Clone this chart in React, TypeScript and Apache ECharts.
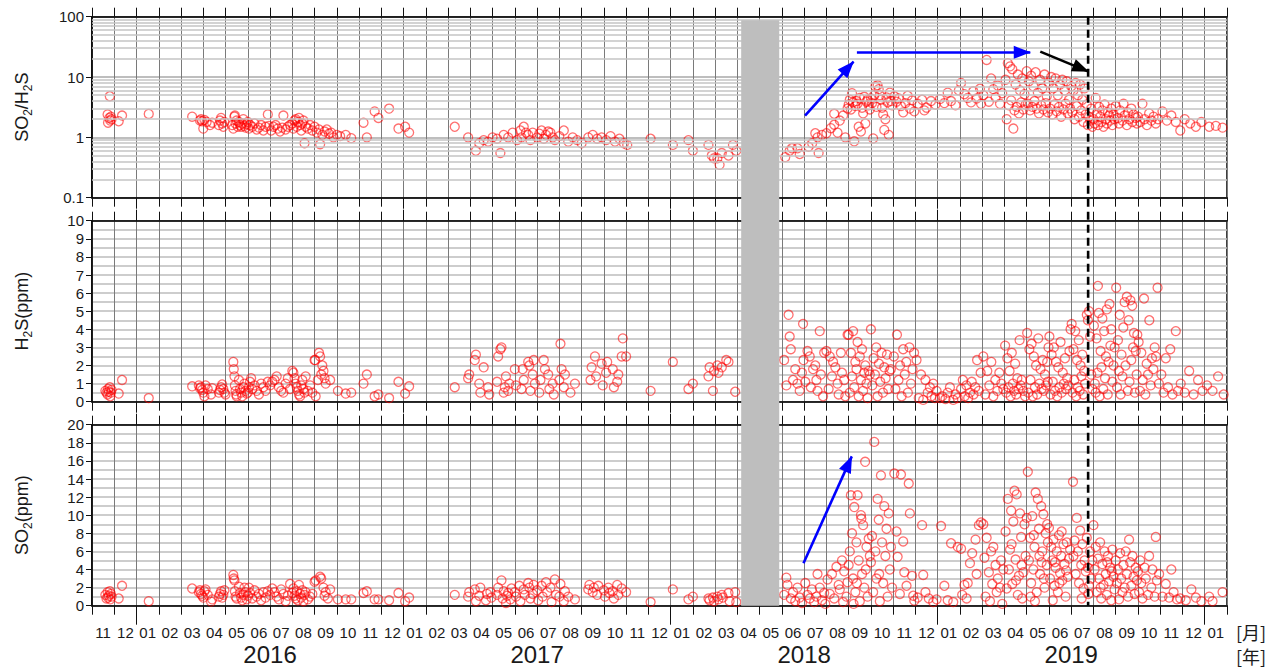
import React, { useEffect, useRef } from "react";
import * as echarts from "echarts";

// x value t = months elapsed since 2015-11-01 (t=2 -> 2016-01-01, t=50 -> 2020-01-01)
const monthLabels = [
  "11", "12",
  "01", "02", "03", "04", "05", "06", "07", "08", "09", "10", "11", "12",
  "01", "02", "03", "04", "05", "06", "07", "08", "09", "10", "11", "12",
  "01", "02", "03", "04", "05", "06", "07", "08", "09", "10", "11", "12",
  "01", "02", "03", "04", "05", "06", "07", "08", "09", "10", "11", "12",
  "01",
];
const yearLabels = ["2016", "2017", "2018", "2019"];
const yearCenters = [8, 20, 32, 44];
const yearStarts = [2, 14, 26, 38, 50];
const ratioTicks = [0.1, 1, 10, 100];
const gapBand = [29.17, 30.88]; // no-measurement period (grey)
const markerT = 44.76; // dashed line

// SO2/H2S ratio
const ratio2016 = [[0.7,2.4],[0.72,1.75],[0.78,2.1],[0.8,4.8],[0.82,1.9],[0.85,2.2],[0.88,2.0],[1.2,1.85],[1.35,2.3],[2.55,2.45],[4.5,2.2],[4.85,1.9],[4.9,2.0],[4.95,1.85],[5.0,1.4],[5.05,1.95],[5.15,1.8],[5.3,1.6],[5.4,1.75],[5.7,1.6],[5.75,1.9],[5.8,2.1],[5.85,1.7],[5.9,1.5],[5.95,1.8],[6.3,1.6],[6.35,1.4],[6.4,2.2],[6.42,2.3],[6.45,1.7],[6.5,1.9],[6.55,1.5],[6.6,1.8],[6.65,1.6],[6.7,1.5],[6.75,1.7],[6.8,2.0],[6.85,1.55],[6.9,1.45],[6.95,1.65],[7.0,1.8],[7.05,1.4],[7.1,1.6],[7.2,1.5],[7.3,1.7],[7.4,1.35],[7.5,1.45],[7.6,1.6],[7.7,1.3],[7.8,1.5],[7.9,2.4],[7.95,1.55],[8.05,1.3],[8.15,1.5],[8.25,1.6],[8.35,1.4],[8.45,1.25],[8.55,1.45],[8.6,2.3],[8.7,1.35],[8.8,1.5],[8.9,1.6],[9.0,1.7],[9.05,1.4],[9.1,1.9],[9.15,2.0],[9.2,1.5],[9.25,1.8],[9.3,2.1],[9.35,1.6],[9.4,1.3],[9.45,1.7],[9.5,1.9],[9.55,0.8],[9.6,1.5],[9.7,1.4],[9.8,1.6],[9.9,1.3],[10.0,1.5],[10.1,1.2],[10.2,1.35],[10.25,0.77],[10.35,1.1],[10.45,1.25],[10.55,1.35],[10.65,1.15],[10.75,1.2],[10.85,1.0],[11.0,1.1],[11.15,1.05],[11.4,1.1],[11.65,0.97],[12.2,1.75],[12.35,1.0],[12.7,2.7],[12.87,2.1],[13.35,3.0],[13.77,1.4],[14.07,1.5],[14.25,1.2]];
const ratio2017 = [[16.3,1.5],[16.9,1.0],[17.25,0.6],[17.4,0.8],[17.6,0.9],[17.8,0.85],[18.0,1.0],[18.2,0.95],[18.35,0.55],[18.5,1.1],[18.7,1.0],[18.9,1.2],[19.1,0.9],[19.25,1.3],[19.3,1.0],[19.4,1.5],[19.5,1.2],[19.6,1.1],[19.7,0.9],[19.8,1.2],[20.0,1.0],[20.1,1.15],[20.2,1.3],[20.3,0.95],[20.4,1.1],[20.5,1.25],[20.6,1.2],[20.7,1.0],[20.8,0.9],[21.0,1.05],[21.2,1.3],[21.4,0.85],[21.6,1.0],[21.8,0.9],[22.0,0.8],[22.3,1.0],[22.5,1.1],[22.7,0.95],[22.9,1.0],[23.1,0.9],[23.3,1.05],[23.5,0.85],[23.7,0.95],[23.9,0.8],[24.05,0.75],[25.1,0.95],[26.1,0.75],[26.8,0.9],[27.0,0.6],[27.7,0.75],[27.85,0.5],[27.95,0.45],[28.1,0.45],[28.2,0.35],[28.3,0.55],[28.6,0.5],[28.8,0.75],[28.95,0.6]];
const ratio2018 = [[31.15,0.47],[31.35,0.6],[31.45,0.66],[31.7,0.66],[31.8,0.53],[32.2,0.7],[32.36,0.8],[32.5,1.17],[32.65,0.55],[32.6,1.0],[32.8,1.1],[33.0,1.17],[33.2,1.42],[33.35,1.62],[33.35,2.46],[33.5,1.2],[33.6,1.9],[33.75,2.3],[33.85,1.0],[33.95,3.0],[34.0,3.5],[34.05,4.2],[34.1,2.9],[34.15,5.4],[34.2,3.8],[34.25,0.86],[34.3,3.3],[34.35,4.0],[34.4,3.6],[34.45,1.5],[34.5,4.5],[34.55,1.25],[34.6,3.1],[34.65,2.5],[34.7,4.7],[34.75,1.7],[34.8,3.9],[34.85,4.2],[34.9,3.4],[34.95,2.9],[35.0,4.4],[35.05,3.7],[35.1,0.96],[35.15,5.0],[35.2,7.0],[35.25,3.2],[35.3,7.3],[35.35,6.3],[35.4,5.0],[35.45,4.2],[35.5,3.1],[35.55,2.4],[35.6,1.33],[35.65,2.0],[35.7,4.6],[35.75,3.8],[35.8,1.1],[35.85,5.5],[35.9,4.0],[35.95,3.4],[36.05,4.8],[36.15,3.9],[36.25,4.4],[36.35,3.3],[36.45,2.6],[36.55,3.7],[36.65,4.9],[36.75,3.0],[36.85,4.1],[36.95,2.7],[37.1,3.6],[37.3,4.2],[37.4,2.8],[37.5,3.1],[37.7,4.0],[37.9,3.5],[38.1,4.3],[38.3,3.7],[38.45,5.5],[38.6,4.0],[38.8,3.4],[38.95,6.0],[39.05,8.0],[39.2,5.2],[39.35,4.5],[39.5,3.8],[39.6,5.8],[39.75,4.4],[39.9,6.4],[39.95,3.6],[40.05,5.0],[40.2,19.2],[40.3,3.9],[40.4,9.5],[40.5,6.3],[40.6,4.6],[40.7,7.2],[40.8,3.6],[40.9,5.4],[41.05,9.0],[41.1,2.0],[41.15,17.0],[41.2,3.4],[41.25,15.0],[41.3,4.1],[41.35,13.5],[41.4,1.4],[41.45,2.8],[41.5,7.5],[41.55,3.2],[41.6,11.0],[41.65,2.5],[41.7,6.0],[41.75,3.8],[41.8,9.5],[41.85,2.9],[41.9,5.2],[41.95,3.5],[42.0,12.5],[42.05,3.6],[42.1,8.5],[42.15,2.8],[42.2,10.5],[42.25,3.2],[42.3,7.0],[42.35,4.0],[42.4,12.0],[42.45,3.0],[42.5,5.5],[42.55,2.5],[42.6,9.0],[42.65,3.4],[42.7,6.5],[42.75,2.9],[42.8,11.0],[42.85,3.7],[42.9,4.8],[42.95,2.6],[43.0,8.0],[43.05,3.0],[43.1,10.0],[43.15,2.4],[43.2,6.5],[43.25,3.5],[43.3,9.5],[43.35,2.7],[43.4,5.0],[43.45,3.2],[43.5,7.5],[43.55,2.2],[43.6,9.0],[43.65,2.9],[43.7,6.0],[43.75,3.6],[43.8,8.5],[43.85,2.5],[43.9,4.2],[43.95,3.0],[44.0,7.0],[44.05,2.6],[44.1,6.0],[44.15,2.0],[44.2,8.0],[44.25,3.3],[44.3,5.0],[44.35,2.2],[44.4,7.5],[44.45,2.8],[44.5,4.2],[44.55,1.8],[44.6,6.5],[44.65,2.4],[44.7,3.5],[44.75,1.6],[44.8,2.2],[44.85,1.9],[44.9,3.0],[44.95,1.5],[45.0,2.0],[45.05,1.7],[45.1,4.5],[45.15,2.5],[45.2,1.6],[45.25,3.2],[45.3,2.2],[45.35,1.8],[45.4,2.8],[45.45,1.5],[45.5,3.5],[45.55,2.0],[45.6,1.7],[45.65,2.6],[45.7,2.3],[45.75,1.9],[45.8,3.0],[45.85,1.6],[45.9,2.4],[45.95,2.0],[46.0,3.3],[46.1,2.1],[46.15,1.7],[46.2,2.8],[46.3,1.9],[46.35,3.6],[46.4,2.3],[46.5,1.6],[46.55,2.6],[46.6,2.0],[46.7,3.0],[46.75,1.8],[46.8,2.4],[46.9,2.1],[46.95,1.7],[47.0,2.2],[47.1,1.8],[47.2,3.6],[47.3,2.0],[47.4,1.6],[47.5,2.5],[47.6,1.9],[47.7,2.2],[47.8,1.7],[47.9,2.0],[48.1,2.7],[48.3,1.9],[48.5,2.3],[48.7,1.8],[48.9,1.3],[49.1,2.0],[49.35,1.7],[49.6,1.5],[49.85,1.8],[50.2,1.5],[50.5,1.55],[50.8,1.45]];

// H2S (ppm)
const h2s2016 = [[0.6,0.6],[0.65,0.5],[0.7,0.4],[0.72,0.7],[0.75,0.55],[0.8,0.8],[0.82,0.3],[0.85,0.5],[0.88,0.65],[1.2,0.45],[1.35,1.2],[2.55,0.2],[4.5,0.85],[4.8,0.9],[4.85,0.75],[4.9,0.8],[4.95,0.65],[5.0,0.5],[5.05,0.3],[5.1,0.9],[5.2,0.7],[5.35,0.4],[5.4,0.75],[5.7,0.5],[5.75,0.65],[5.8,0.8],[5.85,0.95],[5.9,0.7],[5.95,0.5],[6.0,0.4],[6.35,2.2],[6.37,1.8],[6.4,1.4],[6.42,0.9],[6.45,0.6],[6.48,0.4],[6.5,0.3],[6.6,1.2],[6.65,0.7],[6.7,0.5],[6.75,0.3],[6.8,0.8],[6.85,1.0],[6.9,0.6],[6.95,0.45],[7.0,0.5],[7.05,0.8],[7.1,1.1],[7.15,1.3],[7.2,0.7],[7.3,0.9],[7.4,0.6],[7.5,0.4],[7.6,1.0],[7.7,0.8],[7.8,0.6],[7.9,1.1],[8.0,0.9],[8.1,1.1],[8.2,1.2],[8.3,1.4],[8.4,0.8],[8.5,0.6],[8.6,0.5],[8.7,1.0],[8.8,1.3],[8.9,0.7],[9.0,1.7],[9.05,1.6],[9.1,1.3],[9.15,1.0],[9.2,0.8],[9.25,0.6],[9.3,0.4],[9.35,0.3],[9.4,0.9],[9.45,1.2],[9.5,0.7],[9.55,0.5],[9.6,1.4],[9.7,0.6],[9.8,0.9],[9.9,0.5],[10.0,2.3],[10.03,2.3],[10.05,0.3],[10.15,1.2],[10.2,2.7],[10.25,2.5],[10.3,1.5],[10.35,2.0],[10.4,1.7],[10.45,1.3],[10.5,1.0],[10.7,1.2],[11.05,0.6],[11.4,0.45],[11.65,0.5],[12.2,1.0],[12.35,1.5],[12.7,0.3],[12.87,0.4],[13.35,0.2],[13.77,1.1],[14.07,0.45],[14.25,0.85]];
const h2s2017 = [[16.3,0.8],[16.9,1.3],[16.95,1.5],[17.2,2.3],[17.25,2.6],[17.4,1.0],[17.45,0.5],[17.6,1.9],[17.8,0.8],[17.85,0.4],[18.2,1.1],[18.25,2.5],[18.35,2.9],[18.4,3.0],[18.5,0.5],[18.55,0.8],[18.6,1.4],[18.7,0.6],[18.75,1.0],[19.0,1.8],[19.05,0.9],[19.3,0.7],[19.35,1.8],[19.4,1.2],[19.6,2.2],[19.65,2.0],[19.7,0.6],[19.8,1.5],[19.85,2.3],[19.9,1.0],[20.1,0.5],[20.15,1.2],[20.3,2.3],[20.35,1.8],[20.5,1.5],[20.55,0.7],[20.7,1.0],[20.75,0.4],[21.0,1.2],[21.05,3.2],[21.1,1.8],[21.2,0.8],[21.25,1.5],[21.5,0.5],[21.7,1.0],[22.4,1.2],[22.45,1.9],[22.6,2.5],[22.65,1.4],[22.9,2.1],[22.95,0.9],[23.1,1.6],[23.15,2.2],[23.4,1.8],[23.45,0.8],[23.6,1.1],[23.65,1.5],[23.8,2.5],[23.85,3.5],[24.0,2.5],[25.1,0.6],[26.1,2.2],[26.8,0.7],[27.0,1.0],[27.7,1.4],[27.75,1.9],[27.9,0.6],[27.95,1.7],[28.1,2.0],[28.15,1.6],[28.3,1.9],[28.5,2.3],[28.6,2.2],[28.9,0.55]];
const h2s2018 = [[31.1,2.3],[31.2,0.9],[31.3,4.8],[31.35,3.6],[31.4,2.9],[31.5,1.2],[31.6,1.8],[31.7,1.0],[31.8,0.6],[31.9,1.6],[31.95,4.3],[31.97,2.3],[32.05,1.1],[32.15,2.8],[32.25,2.5],[32.3,0.8],[32.4,1.8],[32.5,2.0],[32.55,1.2],[32.6,0.6],[32.7,3.9],[32.75,1.5],[32.85,0.3],[32.9,2.7],[33.0,2.8],[33.1,0.7],[33.15,2.5],[33.25,1.4],[33.3,2.2],[33.4,1.9],[33.5,1.0],[33.55,0.4],[33.65,2.7],[33.7,1.6],[33.8,1.2],[33.85,0.3],[33.95,3.7],[34.0,3.7],[34.05,0.5],[34.1,2.7],[34.15,1.4],[34.2,3.9],[34.25,0.8],[34.3,2.2],[34.35,1.8],[34.4,3.3],[34.45,0.3],[34.5,2.5],[34.55,1.2],[34.6,2.9],[34.65,0.6],[34.7,1.6],[34.75,2.0],[34.8,1.0],[34.85,0.2],[34.9,1.7],[34.95,1.5],[35.0,4.0],[35.06,0.9],[35.12,2.4],[35.18,1.5],[35.24,3.0],[35.3,0.3],[35.36,2.1],[35.42,1.1],[35.48,2.7],[35.54,0.5],[35.6,1.9],[35.66,1.3],[35.72,2.6],[35.78,0.7],[35.84,1.7],[35.9,1.8],[36.03,2.5],[36.1,0.7],[36.17,3.7],[36.24,1.2],[36.31,2.0],[36.38,0.3],[36.45,2.9],[36.52,1.5],[36.59,2.2],[36.66,0.5],[36.73,3.0],[36.8,1.0],[36.87,1.8],[36.94,2.7],[37.05,2.3],[37.15,0.2],[37.25,1.5],[37.35,0.1],[37.45,1.2],[37.55,0.5],[37.65,0.8],[37.72,0.3],[37.8,1.0],[37.88,0.2],[37.95,0.6],[38.1,0.2],[38.2,0.3],[38.35,0.15],[38.45,0.5],[38.55,0.8],[38.7,0.1],[38.8,0.4],[38.9,0.2],[39.05,0.7],[39.13,1.2],[39.21,0.3],[39.29,0.9],[39.37,0.2],[39.45,0.5],[39.53,1.1],[39.61,0.4],[39.69,0.8],[39.77,2.3],[39.85,0.6],[39.93,1.6],[40.05,2.5],[40.14,0.4],[40.23,1.7],[40.32,0.9],[40.41,2.2],[40.5,0.3],[40.59,1.2],[40.68,0.6],[40.77,1.6],[40.86,1.0],[40.95,0.7],[41.03,3.1],[41.08,0.5],[41.13,2.4],[41.18,0.8],[41.23,1.7],[41.28,0.3],[41.33,2.7],[41.38,1.0],[41.43,0.6],[41.48,2.1],[41.53,0.4],[41.58,1.3],[41.63,0.7],[41.68,3.4],[41.73,0.9],[41.78,1.2],[41.85,0.6],[41.93,0.3],[42.02,3.8],[42.07,0.5],[42.12,2.9],[42.17,1.2],[42.22,3.2],[42.27,0.3],[42.32,2.5],[42.37,0.8],[42.42,2.0],[42.47,0.4],[42.52,3.5],[42.57,1.0],[42.62,1.8],[42.67,0.7],[42.72,2.3],[42.77,0.6],[42.82,1.5],[42.87,0.9],[42.92,2.2],[42.95,1.1],[42.98,3.0],[43.02,3.6],[43.07,0.4],[43.12,2.6],[43.17,1.1],[43.22,3.0],[43.27,0.6],[43.32,2.2],[43.37,0.3],[43.42,1.9],[43.47,0.8],[43.52,3.3],[43.57,0.5],[43.62,1.6],[43.67,1.0],[43.72,2.4],[43.77,0.7],[43.82,1.3],[43.87,0.9],[43.92,2.8],[43.97,4.0],[44.02,4.3],[44.06,0.5],[44.1,2.9],[44.14,1.2],[44.18,3.9],[44.22,0.3],[44.26,2.3],[44.3,0.8],[44.34,3.4],[44.38,0.6],[44.42,2.0],[44.46,1.4],[44.5,2.6],[44.54,0.4],[44.58,1.7],[44.62,1.0],[44.7,4.8],[44.75,4.5],[44.8,5.0],[44.85,3.6],[44.9,1.5],[44.95,0.7],[45.02,4.2],[45.06,1.0],[45.1,0.5],[45.14,3.5],[45.18,1.6],[45.2,6.4],[45.24,4.9],[45.28,0.3],[45.32,2.8],[45.36,1.9],[45.4,4.6],[45.44,0.7],[45.48,3.9],[45.52,1.3],[45.56,2.5],[45.6,5.1],[45.64,0.4],[45.68,2.2],[45.72,5.4],[45.76,3.1],[45.8,4.0],[45.85,1.1],[45.9,2.0],[45.95,3.0],[46.02,6.3],[46.06,0.8],[46.1,3.4],[46.14,1.7],[46.18,4.8],[46.22,0.4],[46.26,2.6],[46.3,1.4],[46.34,4.1],[46.4,5.5],[46.44,2.0],[46.5,5.8],[46.54,0.6],[46.58,4.5],[46.62,1.1],[46.66,5.6],[46.7,2.3],[46.74,5.3],[46.78,3.0],[46.82,3.8],[46.86,0.5],[46.9,2.8],[46.94,1.5],[46.97,3.7],[47.03,3.3],[47.09,0.6],[47.15,2.7],[47.21,1.2],[47.27,5.7],[47.33,0.4],[47.39,2.1],[47.45,1.5],[47.51,4.5],[47.57,0.9],[47.63,2.4],[47.69,1.8],[47.75,3.0],[47.81,2.5],[47.88,6.3],[47.94,1.0],[48.05,1.5],[48.15,0.5],[48.25,2.4],[48.35,0.8],[48.45,2.9],[48.55,0.4],[48.7,3.9],[48.8,0.6],[48.92,1.0],[49.1,0.5],[49.3,1.7],[49.5,0.4],[49.7,1.2],[49.9,0.6],[50.1,0.9],[50.35,0.6],[50.6,1.4],[50.85,0.4]];

// SO2 (ppm)
const so22016 = [[0.6,1.2],[0.65,0.8],[0.7,1.5],[0.72,0.9],[0.75,1.1],[0.8,1.6],[0.82,0.7],[0.85,1.3],[0.88,1.0],[1.2,0.8],[1.35,2.2],[2.55,0.5],[4.5,1.9],[4.8,1.5],[4.85,1.7],[4.9,1.3],[4.95,1.1],[5.0,0.9],[5.05,1.6],[5.1,1.8],[5.2,1.2],[5.35,0.45],[5.4,0.7],[5.7,1.0],[5.75,1.3],[5.8,1.6],[5.85,0.9],[5.9,1.2],[5.95,1.7],[6.35,3.4],[6.37,3.0],[6.4,2.8],[6.42,1.6],[6.45,1.0],[6.5,0.8],[6.6,2.1],[6.65,1.4],[6.7,0.9],[6.75,0.6],[6.8,1.2],[6.85,2.0],[6.9,1.5],[6.95,0.7],[7.0,1.1],[7.05,2.0],[7.1,1.4],[7.2,0.8],[7.3,1.7],[7.4,1.0],[7.5,1.3],[7.6,0.6],[7.7,1.5],[7.8,0.9],[7.9,1.6],[8.0,1.2],[8.1,1.9],[8.2,1.5],[8.3,1.0],[8.4,0.7],[8.5,1.8],[8.6,1.3],[8.7,0.5],[8.8,1.1],[8.9,2.4],[9.0,1.4],[9.05,1.9],[9.1,1.1],[9.15,0.8],[9.2,1.6],[9.25,0.6],[9.3,2.3],[9.35,1.3],[9.4,0.9],[9.45,1.7],[9.5,0.5],[9.55,1.2],[9.6,1.5],[9.7,0.7],[9.8,1.0],[9.9,1.3],[10.0,2.65],[10.05,2.8],[10.25,3.2],[10.3,3.0],[10.4,2.0],[10.45,1.1],[10.5,1.5],[10.6,0.8],[10.7,1.8],[11.05,0.7],[11.4,0.7],[11.65,0.7],[12.2,1.4],[12.35,1.6],[12.7,0.7],[12.87,0.7],[13.35,0.6],[13.77,1.4],[14.07,0.5],[14.25,0.9]];
const so22017 = [[16.3,1.2],[16.9,1.0],[16.95,1.5],[17.2,1.8],[17.25,0.5],[17.4,1.1],[17.45,2.0],[17.7,0.6],[17.75,1.3],[17.9,1.5],[17.95,0.9],[18.2,1.2],[18.25,2.0],[18.4,2.8],[18.45,0.8],[18.5,1.6],[18.6,0.3],[18.65,1.1],[18.7,1.4],[18.8,0.7],[18.85,1.9],[19.0,1.5],[19.05,1.0],[19.2,2.2],[19.25,0.5],[19.4,1.8],[19.45,1.2],[19.6,2.5],[19.65,2.0],[19.7,0.8],[19.8,1.3],[19.85,2.3],[20.0,1.7],[20.05,0.6],[20.2,2.2],[20.25,1.0],[20.4,2.6],[20.45,1.5],[20.6,2.0],[20.65,0.4],[20.8,2.9],[20.85,1.2],[21.0,1.0],[21.05,2.4],[21.2,0.5],[21.25,1.6],[21.4,1.0],[21.7,0.7],[22.3,1.8],[22.35,2.3],[22.5,1.5],[22.55,2.0],[22.7,1.2],[22.75,2.2],[23.0,1.7],[23.05,1.0],[23.2,2.0],[23.25,1.4],[23.4,1.6],[23.45,0.8],[23.6,2.3],[23.65,1.2],[23.8,1.9],[24.0,1.5],[25.1,0.4],[26.1,1.8],[26.8,0.7],[27.0,1.0],[27.7,0.8],[27.75,0.6],[27.9,0.9],[27.95,0.5],[28.1,1.0],[28.15,0.7],[28.3,1.2],[28.35,0.9],[28.6,1.4],[28.65,0.5],[28.9,1.5],[28.95,0.4]];
const so22018 = [[31.1,1.2],[31.2,3.1],[31.25,2.3],[31.4,0.8],[31.5,1.5],[31.6,0.5],[31.7,2.0],[31.8,0.9],[31.9,0.3],[32.05,2.5],[32.15,1.2],[32.25,0.8],[32.35,1.8],[32.45,0.4],[32.55,1.0],[32.6,3.5],[32.7,2.0],[32.8,0.6],[32.9,1.4],[32.95,0.2],[33.05,2.9],[33.15,1.3],[33.25,3.5],[33.35,0.8],[33.45,4.3],[33.55,2.3],[33.6,1.8],[33.7,5.0],[33.75,0.4],[33.8,3.8],[33.9,1.0],[33.95,2.6],[34.0,4.5],[34.05,6.0],[34.1,12.2],[34.15,8.0],[34.2,3.0],[34.22,0.2],[34.25,10.9],[34.3,1.5],[34.35,7.0],[34.37,2.5],[34.4,12.2],[34.45,5.0],[34.5,0.5],[34.55,10.0],[34.57,9.6],[34.6,3.5],[34.65,8.9],[34.7,2.0],[34.74,15.9],[34.77,4.0],[34.8,6.5],[34.85,1.0],[34.9,7.4],[34.95,5.5],[35.0,4.8],[35.05,7.7],[35.1,1.5],[35.15,18.1],[35.2,6.0],[35.25,3.0],[35.3,11.8],[35.35,9.5],[35.37,3.5],[35.4,0.5],[35.45,14.4],[35.5,7.0],[35.55,2.5],[35.6,11.0],[35.65,5.5],[35.7,8.5],[35.75,1.0],[35.8,10.2],[35.85,4.0],[35.9,6.5],[35.95,2.0],[36.05,14.6],[36.15,8.2],[36.2,5.4],[36.3,1.3],[36.35,14.5],[36.45,7.1],[36.5,3.7],[36.6,2.2],[36.7,13.5],[36.75,10.2],[36.85,3.3],[36.9,1.1],[36.95,0.55],[37.1,0.9],[37.3,8.9],[37.35,3.4],[37.45,1.5],[37.6,0.8],[37.8,0.4],[37.95,0.7],[38.15,8.8],[38.3,2.2],[38.45,0.6],[38.6,6.9],[38.7,0.4],[38.9,6.5],[39.05,6.3],[39.1,1.2],[39.2,2.3],[39.3,0.8],[39.35,2.5],[39.45,4.7],[39.55,5.8],[39.7,7.3],[39.75,3.5],[39.85,8.9],[39.95,9.2],[40.05,9.0],[40.1,5.3],[40.15,1.0],[40.2,7.5],[40.3,3.7],[40.35,0.5],[40.4,6.0],[40.45,2.4],[40.5,6.5],[40.6,4.5],[40.65,1.5],[40.7,3.0],[40.8,2.0],[40.85,5.0],[40.9,0.2],[40.95,4.0],[41.05,8.2],[41.1,1.9],[41.15,11.8],[41.2,4.0],[41.25,6.2],[41.3,10.5],[41.32,6.8],[41.35,2.4],[41.4,9.3],[41.45,12.7],[41.5,5.1],[41.52,2.8],[41.55,12.3],[41.6,1.2],[41.65,3.3],[41.7,10.2],[41.75,7.6],[41.77,4.5],[41.8,0.8],[41.85,3.7],[41.9,9.0],[41.95,5.5],[42.0,9.7],[42.05,14.8],[42.1,5.0],[42.15,7.5],[42.17,1.0],[42.2,2.5],[42.25,9.9],[42.3,4.0],[42.32,7.8],[42.35,6.5],[42.37,0.5],[42.4,12.5],[42.45,1.5],[42.5,11.8],[42.55,8.5],[42.57,5.5],[42.6,3.5],[42.65,11.0],[42.67,4.8],[42.7,6.0],[42.75,10.1],[42.77,3.0],[42.8,2.0],[42.85,8.0],[42.9,4.5],[42.92,9.0],[42.95,7.0],[43.0,8.6],[43.05,3.0],[43.1,6.5],[43.15,5.0],[43.17,0.6],[43.2,7.3],[43.25,2.2],[43.27,4.8],[43.3,4.2],[43.35,6.0],[43.4,1.5],[43.45,7.8],[43.47,2.5],[43.5,3.6],[43.55,5.5],[43.57,8.2],[43.6,2.8],[43.65,6.8],[43.7,4.6],[43.75,1.0],[43.77,3.9],[43.8,7.0],[43.85,3.2],[43.9,5.2],[43.95,6.2],[44.08,13.7],[44.1,5.5],[44.15,7.2],[44.2,3.5],[44.25,9.7],[44.3,6.0],[44.35,2.5],[44.4,8.3],[44.45,4.5],[44.47,0.8],[44.5,6.8],[44.55,1.9],[44.6,5.0],[44.65,3.8],[44.7,7.5],[44.75,4.2],[44.77,1.3],[44.8,2.2],[44.85,6.0],[44.9,3.0],[44.95,5.0],[45.0,8.9],[45.05,4.0],[45.1,6.5],[45.15,1.5],[45.2,5.2],[45.25,3.0],[45.3,7.0],[45.32,2.0],[45.35,0.8],[45.4,4.6],[45.45,2.3],[45.5,6.0],[45.55,3.5],[45.6,1.2],[45.62,4.8],[45.65,5.5],[45.7,2.7],[45.75,4.2],[45.8,0.6],[45.82,3.8],[45.85,6.2],[45.9,3.2],[45.95,1.8],[46.0,5.0],[46.05,2.5],[46.1,4.0],[46.15,0.7],[46.2,5.8],[46.25,3.0],[46.3,1.5],[46.35,4.5],[46.4,2.0],[46.45,6.0],[46.5,3.5],[46.55,1.0],[46.6,7.3],[46.65,4.8],[46.7,2.2],[46.75,5.5],[46.8,3.2],[46.85,1.3],[46.9,4.2],[46.95,2.8],[47.0,3.8],[47.05,1.5],[47.1,5.0],[47.15,2.5],[47.2,0.8],[47.3,4.2],[47.35,3.0],[47.45,1.2],[47.5,5.5],[47.6,2.0],[47.65,4.0],[47.75,1.0],[47.8,7.6],[47.85,2.8],[47.95,3.5],[48.1,1.0],[48.25,2.4],[48.4,0.9],[48.5,4.0],[48.6,1.5],[48.75,0.7],[48.9,0.8],[49.15,0.6],[49.4,1.8],[49.6,0.9],[49.85,0.5],[50.2,1.0],[50.35,0.5],[50.8,1.5]];

// annotation arrows [t, value]
const ratioArrows = [
  { from: [32.04, 2.3], to: [34.22, 18.0], color: "#0000ff" },
  { from: [34.37, 25.7], to: [42.16, 25.7], color: "#0000ff" },
  { from: [42.61, 26.4], to: [44.78, 12.3], color: "#000000" },
];
const so2Arrows = [{ from: [31.97, 4.7], to: [34.14, 16.5], color: "#0000ff" }];

const N = monthLabels.length;
const FONT = "'Liberation Sans', Arial, Helvetica, sans-serif";
const CJK = "'Noto Sans CJK JP', sans-serif";
const PANEL_TOP = [16.7, 220.7, 424.7];
const PANEL_H = 181;

export default function App() {
  const ref = useRef<HTMLDivElement>(null);
  useEffect(() => {
    if (!ref.current) return;
    const chart = echarts.init(ref.current, undefined, { renderer: "svg" });

    const grid = PANEL_TOP.map((top) => ({
      left: 92, right: 57, top, height: PANEL_H, show: true,
      borderColor: "#000", borderWidth: 1.5, backgroundColor: "transparent",
    }));

    const tickStyle = { color: "#111", width: 1 };
    const xAxis: any[] = [];
    for (let i = 0; i < 3; i++) {
      xAxis.push({
        type: "category", gridIndex: i, data: monthLabels, position: "bottom", boundaryGap: true,
        axisLine: { show: true, onZero: false, lineStyle: { color: "#000", width: 1.5 } },
        axisTick: { show: true, interval: 0, length: 9, lineStyle: tickStyle },
        axisLabel: { show: i === 2, interval: 0, fontSize: 15, color: "#1a1a1a", fontFamily: FONT, margin: 19 },
        splitLine: { show: true, interval: 0, lineStyle: { color: "#7a7a7a", width: 1 } },
      });
      xAxis.push({
        type: "category", gridIndex: i, data: monthLabels, position: "top", boundaryGap: true,
        axisLine: { show: true, onZero: false, lineStyle: { color: "#000", width: 1.5 } },
        axisTick: { show: true, interval: 0, length: 9, lineStyle: tickStyle },
        axisLabel: { show: false }, splitLine: { show: false },
      });
      xAxis.push({
        type: "value", gridIndex: i, min: 0, max: N, position: "bottom",
        axisLine: { show: false, onZero: false },
        axisTick: { show: true, customValues: yearStarts, length: i === 2 ? 19 : 11, lineStyle: tickStyle },
        axisLabel: i === 2
          ? { show: true, customValues: yearCenters, formatter: (v: number) => yearLabels[yearCenters.indexOf(v)] ?? "", fontSize: 24, color: "#1a1a1a", fontFamily: FONT, margin: 37 }
          : { show: false },
        splitLine: { show: false },
      });
      xAxis.push({
        type: "value", gridIndex: i, min: 0, max: N, position: "top",
        axisLine: { show: false, onZero: false },
        axisTick: { show: i > 0, customValues: yearStarts, length: 11, lineStyle: tickStyle },
        axisLabel: { show: false }, splitLine: { show: false },
      });
    }

    const nameRich = {
      a: { fontSize: 18, fontFamily: FONT, color: "#1a1a1a", lineHeight: 24 },
      b: { fontSize: 12, fontFamily: FONT, color: "#1a1a1a", lineHeight: 14, verticalAlign: "bottom" },
    };
    const yCommon = {
      nameLocation: "middle", nameRotate: 90, nameGap: 58,
      nameTextStyle: { rich: nameRich },
      axisLine: { show: true, onZero: false, lineStyle: { color: "#000", width: 1.5 } },
      axisTick: { show: true, length: 6, lineStyle: tickStyle },
      axisLabel: { fontSize: 15, color: "#1a1a1a", fontFamily: FONT, margin: 8 },
    };
    const hLine = { color: "#bdbdbd", width: 1.5 };
    const yAxis: any[] = [
      {
        ...yCommon, type: "log", logBase: 10, gridIndex: 0, min: 0.1, max: 100,
        name: "{a|SO}{b|2}{a|/H}{b|2}{a|S}",
        axisLabel: { ...yCommon.axisLabel, customValues: ratioTicks, formatter: (v: number) => String(v) },
        splitLine: { show: true, lineStyle: { color: "#a8a8a8", width: 1.5 } },
      },
      {
        ...yCommon, type: "value", gridIndex: 1, min: 0, max: 10, interval: 1,
        name: "{a|H}{b|2}{a|S(ppm)}",
        splitLine: { show: true, lineStyle: hLine },
        minorTick: { show: false, splitNumber: 2 },
        minorSplitLine: { show: true, lineStyle: hLine },
      },
      {
        ...yCommon, type: "value", gridIndex: 2, min: 0, max: 20, interval: 2,
        name: "{a|SO}{b|2}{a|(ppm)}",
        splitLine: { show: true, lineStyle: hLine },
        minorTick: { show: false, splitNumber: 2 },
        minorSplitLine: { show: true, lineStyle: hLine },
      },
    ];

    const logMinor: number[] = [];
    [0.1, 1, 10].forEach((d) => { for (let k = 2; k <= 9; k++) logMinor.push(+(d * k).toFixed(2)); });

    const pointStyle = {
      color: "rgba(255,255,255,0)",
      borderColor: "rgba(255,0,0,0.7)",
      borderWidth: 1.3,
    };
    const scatter = (data: number[][], gi: number) => ({
      type: "scatter", xAxisIndex: gi * 4 + 2, yAxisIndex: gi, data,
      symbol: "circle", symbolSize: 9, itemStyle: pointStyle, z: 3, silent: true,
    });
    const arrowSeries = (arrows: any[], gi: number) => ({
      type: "scatter", xAxisIndex: gi * 4 + 2, yAxisIndex: gi, data: [], z: 30,
      markLine: {
        silent: true, symbol: ["none", "triangle"], symbolSize: [13, 17],
        symbolOffset: [[0, 0], [0, 8]],
        label: { show: false }, animation: false,
        lineStyle: { width: 2.6, type: "solid" },
        data: arrows.map((a) => [
          { coord: a.from, lineStyle: { color: a.color, width: 2.6, type: "solid" }, itemStyle: { color: a.color } },
          { coord: a.to },
        ]),
      },
    });

    chart.setOption({
      animation: false,
      grid,
      xAxis,
      yAxis,
      series: [
        {
          type: "line", xAxisIndex: 2, yAxisIndex: 0, data: [], silent: true, z: 1,
          markLine: {
            silent: true, symbol: ["none", "none"], label: { show: false }, animation: false,
            lineStyle: { color: "#c4c4c4", width: 1.5, type: "solid" },
            data: logMinor.map((v) => ({ yAxis: v })),
          },
        },
        scatter([...ratio2016, ...ratio2017, ...ratio2018], 0),
        scatter([...h2s2016, ...h2s2017, ...h2s2018], 1),
        scatter([...so22016, ...so22017, ...so22018], 2),
        arrowSeries(ratioArrows, 0),
        arrowSeries(so2Arrows, 2),
      ],
    });

    const px = (t: number) => chart.convertToPixel({ xAxisIndex: 2 } as any, t) as unknown as number;
    const bx0 = px(gapBand[0]);
    const bx1 = px(gapBand[1]);
    const dx = px(markerT);
    const top = PANEL_TOP[0];
    const bottom = PANEL_TOP[2] + PANEL_H;
    const unitText = (text: string, y: number) => ({
      type: "text", silent: true, z: 60, x: 1251, y,
      style: { text, fontSize: 18, lineHeight: 20, fontFamily: CJK, fill: "#1a1a1a", align: "center", verticalAlign: "middle" },
    });
    chart.setOption({
      graphic: [
        { type: "rect", silent: true, z: 50, shape: { x: bx0, y: top + 3.5, width: bx1 - bx0, height: bottom - top - 3.5 }, style: { fill: "#bebebe" } },
        { type: "line", silent: true, z: 60, shape: { x1: dx, y1: top, x2: dx, y2: bottom }, style: { stroke: "#000", lineWidth: 2.6, lineDash: [8, 5] } },
        unitText("[月]", 632),
        unitText("[年]", 656),
      ],
    });

    return () => chart.dispose();
  }, []);

  return (
    <div
      ref={ref}
      style={{ position: "fixed", left: 0, top: 0, width: 1284, height: 669, background: "#fff" }}
    />
  );
}
